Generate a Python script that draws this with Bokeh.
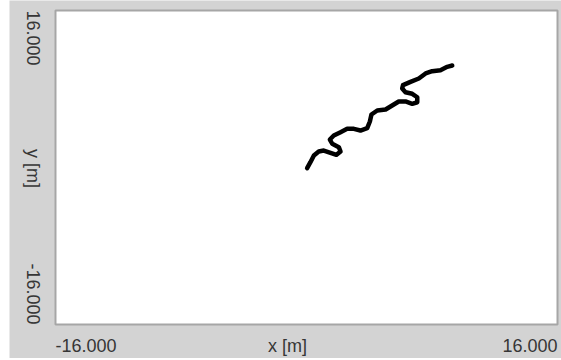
import math
from bokeh.plotting import figure
from bokeh.models import Range1d, Spacer
from bokeh.layouts import row
from bokeh.core.properties import value
from bokeh.embed import file_html
from bokeh.resources import INLINE

# Trajectory (metres)
x_m = [0.04, 0.25, 0.47, 0.78, 1.10, 1.53, 1.91, 2.17, 2.06, 1.64, 1.49, 1.74,
       2.17, 2.59, 3.02, 3.44, 3.87, 4.04, 4.14, 4.51, 5.04, 5.46, 5.88, 6.31,
       6.74, 7.06, 7.06, 6.74, 6.31, 6.10, 6.15, 6.63, 7.16, 7.59, 8.01, 8.54,
       8.97, 9.29]
y_m = [-0.07, 0.54, 1.22, 1.63, 1.73, 1.50, 1.29, 1.63, 2.07, 2.42, 2.85, 3.26,
       3.60, 3.94, 3.94, 3.77, 4.01, 4.69, 5.40, 5.81, 5.91, 6.32, 6.73, 6.73,
       6.49, 6.65, 7.16, 7.51, 7.67, 8.05, 8.39, 8.73, 9.07, 9.58, 9.81, 9.92,
       10.26, 10.39]

axis_min = -16.0
axis_max = 16.0
x_tick_labels = ["-16.000", "16.000"]
y_tick_labels = ["16.000", "-16.000"]
x_title = "x [m]"
y_title = "y [m]"

# ---- layout (pixels) ----
W, H = 552, 358           # figure size
BOX_L, BOX_R = 46, 548    # plotting box inside the figure
BOX_T, BOX_B = 10, 324
sx = (BOX_R - BOX_L) / (axis_max - axis_min)
sy = (BOX_B - BOX_T) / (axis_max - axis_min)
x_start = axis_min - BOX_L / sx
x_end = axis_max + (W - BOX_R) / sx
y_end = axis_max + BOX_T / sy
y_start = axis_min - (H - BOX_B) / sy

def px_to_x(px):
    return axis_min + (px - BOX_L) / sx

def px_to_y(py):
    return axis_max - (py - BOX_T) / sy

FONT = value("Liberation Sans")
FS = value("18px")
TC = "#363636"

p = figure(width=W, height=H, output_backend="svg", toolbar_location=None,
           x_range=Range1d(x_start, x_end), y_range=Range1d(y_start, y_end),
           min_border=0)
p.axis.visible = False
p.grid.visible = False
p.outline_line_color = None
p.border_fill_color = "#d3d3d3"
p.background_fill_color = "#d3d3d3"

# plotting box
p.quad(left=[axis_min], right=[axis_max], bottom=[axis_min], top=[axis_max],
       fill_color="white", line_color="#a6a6a6", line_width=2)

p.line(x_m, y_m, line_color="black", line_width=4.5, line_join="round", line_cap="round")

# x axis texts
xl_y = px_to_y(345)
p.text(x=[axis_min], y=[xl_y], text=[x_tick_labels[0]], text_font=FONT, text_font_size=FS,
       text_color=TC, text_align="left", text_baseline="middle")
p.text(x=[axis_max], y=[xl_y], text=[x_tick_labels[1]], text_font=FONT, text_font_size=FS,
       text_color=TC, text_align="right", text_baseline="middle")
p.text(x=[px_to_x(278)], y=[xl_y], text=[x_title], text_font=FONT, text_font_size=FS,
       text_color=TC, text_align="center", text_baseline="middle")

# y axis texts (rotated, reading top to bottom)
yl_x = px_to_x(23.5)
p.text(x=[yl_x], y=[axis_max], text=[y_tick_labels[0]], text_font=FONT, text_font_size=FS,
       text_color=TC, angle=-math.pi / 2, text_align="left", text_baseline="middle")
p.text(x=[yl_x], y=[axis_min], text=[y_tick_labels[1]], text_font=FONT, text_font_size=FS,
       text_color=TC, angle=-math.pi / 2, text_align="right", text_baseline="middle")
p.text(x=[yl_x], y=[px_to_y(168)], text=[y_title], text_font=FONT, text_font_size=FS,
       text_color=TC, angle=-math.pi / 2, text_align="center", text_baseline="middle")

layout = row(Spacer(width=9, height=H), p)
open("out.html", "w").write(file_html(layout, INLINE))
